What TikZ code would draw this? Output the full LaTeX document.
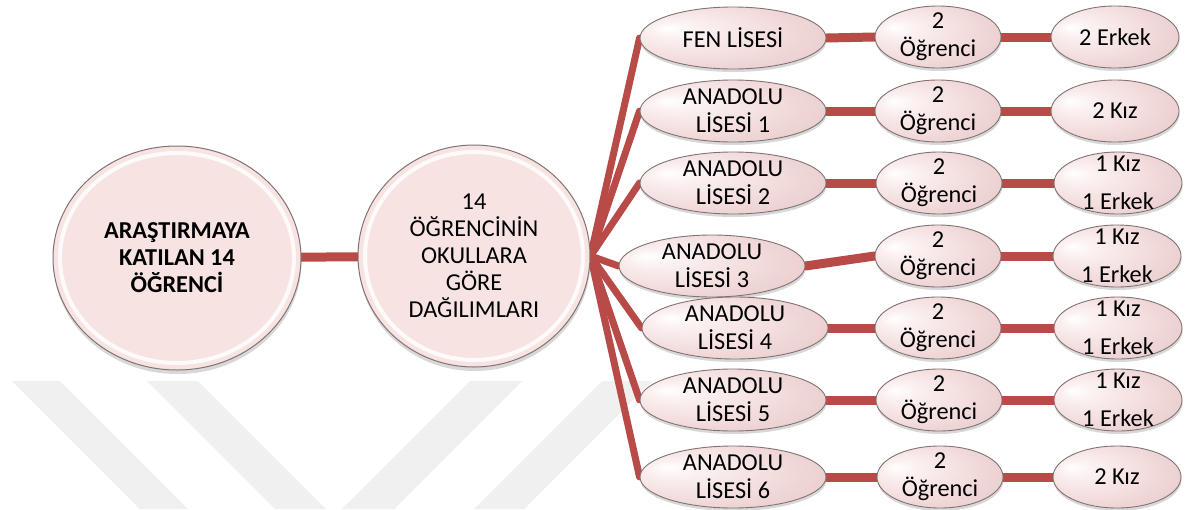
\documentclass[tikz,border=0pt]{standalone}
\usepackage{fontspec}
\setmainfont{Carlito}
\usetikzlibrary{shapes.geometric,shadows,calc}

\definecolor{linkred}{RGB}{184,74,72}
\definecolor{pkA}{RGB}{251,240,240}
\definecolor{pkB}{RGB}{243,220,220}
\definecolor{pkC}{RGB}{226,194,194}
\definecolor{rimgray}{RGB}{130,114,114}
\definecolor{bigpink}{RGB}{248,227,227}
\definecolor{wmgray}{RGB}{240,240,240}

% glossy fill for the small ellipses: light spot up and to the left
\pgfdeclareradialshading{gloss}{\pgfpoint{-18bp}{8bp}}{%
  color(0bp)=(white); color(7bp)=(pkA); color(22bp)=(pkB);
  color(44bp)=(pkC); color(50bp)=(pkC)}

\pgfdeclarelayer{wm}
\pgfdeclarelayer{links}
\pgfsetlayers{wm,links,main}

\tikzset{
  bubble/.style={ellipse, draw=rimgray, line width=0.9pt, shading=gloss,
    inner xsep=0pt, inner ysep=-14pt, align=center,
    font=\fontsize{24.3}{28}\selectfont,
    drop shadow={shadow xshift=0.5pt, shadow yshift=-3pt, opacity=0.3}},
  school/.style={bubble, minimum width=186pt, minimum height=62pt},
  count/.style={bubble, minimum width=126pt, minimum height=62pt},
  split/.style={bubble, minimum width=128pt, minimum height=62pt},
  bigdisc/.style={ellipse, draw=rimgray, line width=1pt, fill=bigpink,
    inner sep=0pt, align=center, font=\fontsize{24.3}{27}\selectfont,
    drop shadow={shadow xshift=0.5pt, shadow yshift=-4pt, opacity=0.3},
    path picture={
      \draw[white, line width=4pt, opacity=0.85]
        let \p1=(path picture bounding box.south west),
            \p2=(path picture bounding box.north east)
        in (path picture bounding box.center)
          ellipse [x radius={0.5*(\x2-\x1)-7pt}, y radius={0.5*(\y2-\y1)-7pt}];
    }},
  link/.style={draw=linkred, line width=9pt, line cap=round},
  fan/.style={draw=linkred, line width=7pt, line cap=round},
}

\begin{document}
\begin{tikzpicture}[x=1pt, y=-1pt]
\useasboundingbox (0,0) rectangle (1189,509);

% faint chevron watermark in the background
\begin{pgfonlayer}{wm}
  \fill[white] (0,0) rectangle (1189,509);
  \fill[wmgray] (12,381) -- (60,381) -- (188,509) -- (140,509) -- cycle;
  \fill[wmgray] (147,381) -- (198,381) -- (326,509) -- (275,509) -- cycle;
  \fill[wmgray] (470,381) -- (522,381) -- (394,509) -- (342,509) -- cycle;
  \fill[wmgray] (602,381) -- (652,381) -- (524,509) -- (474,509) -- cycle;
\end{pgfonlayer}

% root and distribution discs
\node[bigdisc, minimum width=248pt, minimum height=224pt,
      font=\fontsize{24.3}{27}\selectfont\bfseries] (c1) at (177,258)
  {ARAŞTIRMAYA\\KATILAN 14\\ÖĞRENCİ};
\node[bigdisc, minimum width=232pt, minimum height=222pt] (c2) at (474,256)
  {14\\ÖĞRENCİNİN\\OKULLARA\\GÖRE\\DAĞILIMLARI};

% schools
\node[school] (s0) at (733,38)  {FEN LİSESİ};
\node[school] (s1) at (733,111) {ANADOLU\\LİSESİ 1};
\node[school] (s2) at (733,183) {ANADOLU\\LİSESİ 2};
\node[school] (s3) at (712,266) {ANADOLU\\LİSESİ 3};
\node[school] (s4) at (735,328) {ANADOLU\\LİSESİ 4};
\node[school] (s5) at (733,400) {ANADOLU\\LİSESİ 5};
\node[school] (s6) at (733,477) {ANADOLU\\LİSESİ 6};

% student counts
\node[count] (n0) at (938,37)  {2\\Öğrenci};
\node[count] (n1) at (938,111) {2\\Öğrenci};
\node[count] (n2) at (939,183) {2\\Öğrenci};
\node[count] (n3) at (938,256) {2\\Öğrenci};
\node[count] (n4) at (938,328) {2\\Öğrenci};
\node[count] (n5) at (939,400) {2\\Öğrenci};
\node[count] (n6) at (940,477) {2\\Öğrenci};

% gender split
\node[split] (r0) at (1115,37)  {2 Erkek};
\node[split] (r1) at (1115,111) {2 Kız};
\node[split] (r2) at (1118,183) {1 Kız\\[10pt]1 Erkek};
\node[split] (r3) at (1117,256) {1 Kız\\[10pt]1 Erkek};
\node[split] (r4) at (1118,328) {1 Kız\\[10pt]1 Erkek};
\node[split] (r5) at (1118,400) {1 Kız\\[10pt]1 Erkek};
\node[split] (r6) at (1117,477) {2 Kız};

% connectors
\begin{pgfonlayer}{links}
  \draw[link] (c1) -- (c2);
  \foreach \i in {0,...,6} {
    \draw[fan]  (c2.east) -- (s\i.west);
    \draw[link] (s\i.east) -- (n\i.west);
    \draw[link] (n\i.east) -- (r\i.west);
  }
\end{pgfonlayer}
\end{tikzpicture}
\end{document}
